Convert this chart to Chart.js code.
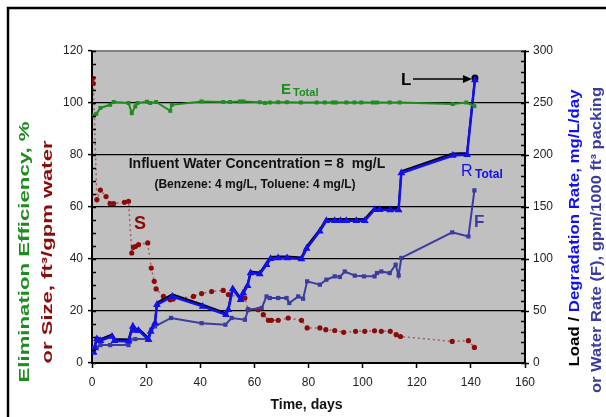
<!DOCTYPE html>
<html><head><meta charset="utf-8">
<script src="https://cdn.jsdelivr.net/npm/chart.js@4.4.1/dist/chart.umd.min.js"></script>
<style>html,body{margin:0;padding:0;background:#fff;}</style>
</head><body>
<canvas id="c" width="606" height="417" style="width:606px;height:417px;display:block"></canvas>
<script>
// ---- Data ----
const xTickLabels = [0,20,40,60,80,100,120,140,160];
const leftTickLabels = [0,20,40,60,80,100,120];
const rightTickLabels = [0,50,100,150,200,250,300];

// Elimination efficiency E_Total (%), left axis
const eDays   = [0.4,1.6,3.1,6.7,8,13.5,14.7,16,16.8,20.3,21.5,23.7,28.9,29.5,40.5,48.5,51,54.7,55.9,62,63.9,65.7,68.8,72,77.2,83,86,89,90.1,94,97,99.5,103.8,105.3,110,113.7,133.3,138.3,141.3];
const eValues = [95.1,95.8,98.1,99.3,100.4,100,96.1,98.7,100,100.5,100,100.4,97,99.3,100.6,100.4,100.4,100.6,100.6,100.3,100,100.2,100.3,100.3,100.2,100.2,100.2,100.2,100.2,100.2,100.2,100.2,100.2,100.2,100.2,100.2,99.6,100.2,98.8];

// Size S (ft3/gpm water), left axis
const sDays   = [0.3,0.5,1.8,3.1,5.2,6.7,8,12,13.5,14.7,15.3,16,17.2,20.6,21.9,23,23.7,26.4,28.9,30,37.5,40.5,44.2,48.5,50.4,55.9,56.5,57.7,61.4,63.3,65.2,66.3,68.8,72.5,77.4,79.5,84.2,86.4,89.7,93,97.4,100.8,104.4,106.9,110.2,112.4,114,133.1,139.1,141.3];
const sValues = [109.5,107.5,62.8,66.5,64,61.3,61.3,61.8,62.2,42.3,44.5,44.8,45.5,46.2,36.5,31.4,28.5,25.6,24.3,24.6,25.6,26.7,27.5,27.9,26.3,25,25,20.5,20.5,18.6,16.4,16.4,16.4,17.3,16.4,13.5,13.5,12.8,12.5,11.8,12.2,12.2,12.4,12.2,12.2,10.9,10.2,8.3,8.6,6];

// Degradation rate R_Total (mg/L/day), right axis
const rDays   = [0.6,1,1.8,3.1,7.4,8.3,13.5,15.1,16,17.2,20.9,21.7,23.3,24,29.7,40.9,49.5,50.4,52,54.9,55.9,57.5,58.6,62,64.5,66,68.8,72.1,77.4,79.3,84.2,86.6,89.7,91.8,94,97.7,100.8,104.4,106.3,110.2,113.3,114.3,133.3,138.6,141.5];
const rValues = [10,14.4,23,21.4,25.6,21.4,20.8,35.2,31.3,31.3,22.4,30.4,38.5,56,64,54.4,46.4,51.2,71.2,60.9,67.3,74.3,86.5,85.6,94.5,100.3,101,101,100,110,126.8,136.8,136.8,136.8,136.8,136.8,136.8,147.4,147.4,147,147,182.7,199.5,200.3,272];

// Load L (mg/L/day), right axis
const lDays   = [0.6,1,1.8,3.1,7.4,8.3,13.5,15.1,16,17.2,20.9,21.7,23.3,24,29.7,40.9,49.5,50.4,52,54.9,55.9,57.5,58.6,62,64.5,66,68.8,72.1,77.4,79.3,84.2,86.6,89.7,91.8,94,97.7,100.8,104.4,106.3,110.2,113.3,114.3,133.3,138.6,141.5];
const lValues = [11.5,16,25,23,27.5,23,22.5,37,33,33,24,32,40,58,66,56,48,53,73,62.5,69,76,88,87,96,102,102.5,102.5,101.5,112,128.5,138.5,138.5,138.5,138.5,138.5,138.5,149,149,149,149,184.5,201.5,202,274];

// Water rate F (gpm/1000 ft3 packing), right axis
const fDays   = [0.6,1.8,3.1,6.7,13.5,14.1,16,20.6,21.9,23.3,29.2,40.5,49.3,51.6,56.5,57.7,62.7,64.5,65.7,68.8,71.9,72.9,76.2,78,79.5,84.2,86.6,89.7,91.6,93.4,97.1,100.5,104.4,105.3,106.9,110,112.2,113.3,114.3,133.1,139.1,141.3];
const fValues = [14.4,15,17.2,17.2,17.2,22.4,23,23,32,35.2,43.3,38.3,36.8,43.3,41.6,51.2,52.9,64,62.5,62.5,62.5,57.7,64,61.8,78.5,75.3,80.1,83.3,82.7,88,84,83.3,83.3,86.5,88,86.5,94.5,84.2,101,125.6,121.7,166];

const pts = (xs, ys) => xs.map((x, i) => ({x: x, y: ys[i]}));

const GREEN = '#1E8C1E', RED = '#8B0A0A', BLUE = '#1010F0', SLATE = '#3C3CA0';
const FONT = "'Liberation Sans', Arial, sans-serif";

function rotText(ctx, parts, cx, cy, target, font) {
  ctx.font = font;
  const ws = parts.map(p => ctx.measureText(p[0]).width);
  const total = ws.reduce((a, b) => a + b, 0);
  ctx.save();
  ctx.translate(cx, cy);
  ctx.rotate(-Math.PI / 2);
  ctx.scale(target / total, 1);
  ctx.textAlign = 'left';
  ctx.textBaseline = 'middle';
  let x = -total / 2;
  parts.forEach((p, i) => { ctx.fillStyle = p[1]; ctx.fillText(p[0], x, 0); x += ws[i]; });
  ctx.restore();
}

const decor = {
  id: 'decor',
  beforeDraw(chart) {
    const ctx = chart.ctx, a = chart.chartArea;
    ctx.save();
    ctx.fillStyle = '#fff';
    ctx.fillRect(0, 0, chart.width, chart.height);
    ctx.strokeStyle = '#000';
    ctx.lineWidth = 2.5;
    ctx.strokeRect(8, 8, 700, 500);
    ctx.fillStyle = '#C0C0C0';
    ctx.fillRect(a.left, a.top, a.right - a.left, a.bottom - a.top);
    ctx.restore();
  },
  afterDraw(chart) {
    const ctx = chart.ctx, a = chart.chartArea;
    const sx = chart.scales.x, sy = chart.scales.y, sy2 = chart.scales.y2;
    ctx.save();
    // top border of plot area
    ctx.strokeStyle = '#808080'; ctx.lineWidth = 2;
    ctx.beginPath(); ctx.moveTo(a.left, a.top); ctx.lineTo(a.right, a.top); ctx.stroke();
    // minor / inner ticks
    ctx.strokeStyle = '#000'; ctx.lineWidth = 1.5;
    ctx.beginPath();
    for (let v = 0; v <= 120; v += 5) {
      const y = Math.round(sy.getPixelForValue(v)) + 0.5;
      ctx.moveTo(a.left, y); ctx.lineTo(a.left + 4, y);
    }
    for (let v = 0; v <= 300; v += 10) {
      const y = Math.round(sy2.getPixelForValue(v)) + 0.5;
      ctx.moveTo(a.right, y); ctx.lineTo(a.right - 4, y);
    }
    ctx.stroke();
    // axis titles
    const tf = 'bold 14px ' + FONT;
    rotText(ctx, [['Elimination Efficiency, %', GREEN]], 25, 252, 261, tf);
    rotText(ctx, [['or Size, ft\u00B3/gpm water', RED]], 48, 252, 223, tf);
    rotText(ctx, [['Load / ', '#000'], ['Degradation Rate, mg/L/day', BLUE]], 575, 228, 277, tf);
    rotText(ctx, [['or Water Rate (F), gpm/1000 ft\u00B3 packing', SLATE]], 597, 240, 306, tf);
    ctx.fillStyle = '#111'; ctx.font = 'bold 14px ' + FONT;
    ctx.textAlign = 'center'; ctx.textBaseline = 'middle';
    ctx.fillText('Time, days', (a.left + a.right) / 2 - 2, 405);
    // annotations
    ctx.fillStyle = '#111';
    ctx.font = 'bold 14px ' + FONT;
    ctx.fillText('Influent Water Concentration = 8  mg/L', 257, 164);
    ctx.font = 'bold 12px ' + FONT;
    ctx.fillText('(Benzene: 4 mg/L, Toluene: 4 mg/L)', 255, 185);
    ctx.textAlign = 'left'; ctx.textBaseline = 'alphabetic';
    ctx.fillStyle = GREEN;
    ctx.font = 'bold 15px ' + FONT; ctx.fillText('E', 281, 94);
    ctx.font = 'bold 11px ' + FONT; ctx.fillText('Total', 293, 96);
    ctx.fillStyle = BLUE;
    ctx.font = '16px ' + FONT; ctx.fillText('R', 461, 176);
    ctx.font = 'bold 12px ' + FONT; ctx.fillText('Total', 475, 178);
    ctx.fillStyle = SLATE;
    ctx.font = 'bold 17px ' + FONT; ctx.fillText('F', 474, 227);
    ctx.fillStyle = RED;
    ctx.font = 'bold 18px ' + FONT; ctx.fillText('S', 134, 229);
    ctx.fillStyle = '#000';
    ctx.font = 'bold 17px ' + FONT; ctx.fillText('L', 401, 85);
    // arrow to the load point
    const ax0 = 413, ax1 = sx.getPixelForValue(141.5) - 3, ay = sy2.getPixelForValue(272) - 1;
    ctx.strokeStyle = '#000'; ctx.lineWidth = 1.5;
    ctx.beginPath(); ctx.moveTo(ax0, ay); ctx.lineTo(ax1 - 6, ay); ctx.stroke();
    ctx.beginPath(); ctx.moveTo(ax1, ay); ctx.lineTo(ax1 - 9, ay - 4); ctx.lineTo(ax1 - 9, ay + 4); ctx.closePath(); ctx.fill();
    ctx.restore();
  }
};

new Chart(document.getElementById('c'), {
  type: 'line',
  data: {
    datasets: [
      { label: 'E', data: pts(eDays, eValues), yAxisID: 'y', borderColor: GREEN, backgroundColor: GREEN,
        borderWidth: 2, pointStyle: 'rect', pointRadius: 2.8, pointBorderWidth: 0, order: 1 },
      { label: 'R', data: pts(rDays, rValues), yAxisID: 'y2', borderColor: BLUE, backgroundColor: BLUE,
        borderWidth: 2.5, pointStyle: 'triangle', pointRadius: 4.5, pointBorderWidth: 0, order: 2 },
      { label: 'L', data: pts(lDays, lValues), yAxisID: 'y2', borderColor: '#000', backgroundColor: '#000',
        borderWidth: 2, pointRadius: (c) => c.dataIndex === lDays.length - 1 ? 2.5 : 0, order: 3 },
      { label: 'F', data: pts(fDays, fValues), yAxisID: 'y2', borderColor: SLATE, backgroundColor: SLATE,
        borderWidth: 2, pointStyle: 'rect', pointRadius: 3, pointBorderWidth: 0, order: 4 },
      { label: 'S', data: pts(sDays, sValues), yAxisID: 'y', borderColor: 'rgba(150,40,40,0.65)', backgroundColor: RED,
        borderWidth: 1.5, borderDash: [2, 3], pointStyle: 'circle', pointRadius: 2.6, pointBorderWidth: 0, order: 5 }
    ]
  },
  options: {
    responsive: false, animation: false, devicePixelRatio: 1,
    layout: { padding: { top: 51, left: 0, right: 0, bottom: 0 } },
    plugins: { legend: { display: false }, tooltip: { enabled: false } },
    elements: { line: { tension: 0 } },
    scales: {
      x: {
        type: 'linear', position: 'bottom', min: 0, max: 160,
        afterFit: (s) => { s.height = 54; },
        afterBuildTicks: (s) => { s.ticks = xTickLabels.map(v => ({ value: v })); },
        ticks: { font: { family: FONT, size: 12 }, color: '#222', padding: 7 },
        grid: { drawOnChartArea: false, drawTicks: true, tickLength: 5, tickColor: '#000', tickWidth: 1.5 },
        border: { color: '#000', width: 2 }
      },
      y: {
        type: 'linear', position: 'left', min: 0, max: 120,
        afterFit: (s) => { s.width = 92; },
        afterBuildTicks: (s) => { s.ticks = leftTickLabels.map(v => ({ value: v })); },
        ticks: { font: { family: FONT, size: 12 }, color: '#222', padding: 5 },
        grid: { color: (c) => (c.tick && c.tick.value > 0 && c.tick.value < 120) ? '#000' : 'rgba(0,0,0,0)',
                lineWidth: 1.2, drawTicks: true, tickLength: 4, tickColor: '#000', tickWidth: 1.5 },
        border: { color: '#000', width: 2 }
      },
      y2: {
        type: 'linear', position: 'right', min: 0, max: 300,
        afterFit: (s) => { s.width = 81; },
        afterBuildTicks: (s) => { s.ticks = rightTickLabels.map(v => ({ value: v })); },
        ticks: { font: { family: FONT, size: 12 }, color: '#222', padding: 4 },
        grid: { drawOnChartArea: false, drawTicks: true, tickLength: 4, tickColor: '#000', tickWidth: 1.5 },
        border: { color: '#000', width: 2 }
      }
    }
  },
  plugins: [decor]
});
</script>
</body></html>
